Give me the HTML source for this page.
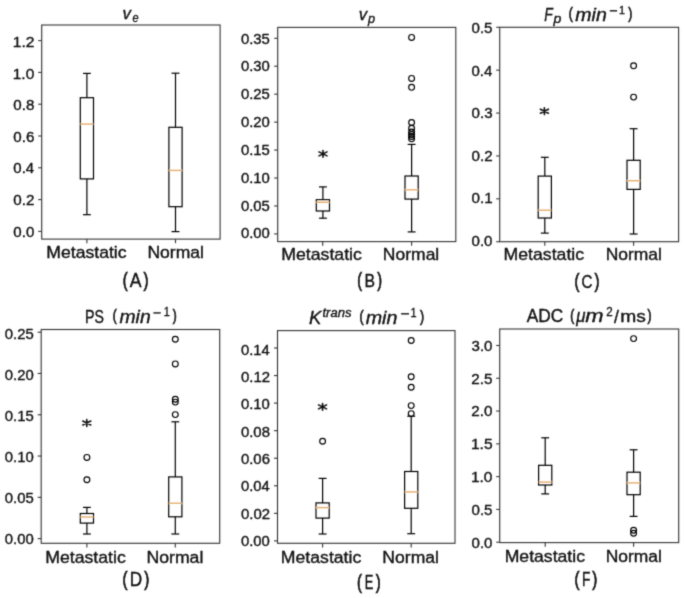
<!DOCTYPE html>
<html><head><meta charset="utf-8"><style>
html,body{margin:0;padding:0;background:#fff;overflow:hidden;}
svg{display:block;}
text{font-family:"Liberation Sans",sans-serif;stroke:#0a0a0a;stroke-width:0.3px;}
</style></head><body>
<svg width="685" height="598" viewBox="0 0 685 598">
<defs><filter id="b" x="0" y="0" width="685" height="598" filterUnits="userSpaceOnUse"><feConvolveMatrix order="3" kernelMatrix="0.0225 0.1050 0.0225 0.1050 0.4900 0.1050 0.0225 0.1050 0.0225" edgeMode="duplicate"/></filter></defs>
<rect width="685" height="598" fill="#fff"/>
<g filter="url(#b)">
<line x1="86.90" y1="178.90" x2="86.90" y2="214.70" stroke="#000" stroke-width="1.2"/>
<line x1="86.90" y1="97.70" x2="86.90" y2="73.40" stroke="#000" stroke-width="1.2"/>
<line x1="82.95" y1="214.70" x2="90.85" y2="214.70" stroke="#000" stroke-width="1.2"/>
<line x1="82.95" y1="73.40" x2="90.85" y2="73.40" stroke="#000" stroke-width="1.2"/>
<rect x="80.30" y="97.70" width="13.20" height="81.20" fill="none" stroke="#000" stroke-width="1.2"/>
<line x1="80.30" y1="124.10" x2="93.50" y2="124.10" stroke="#e6ae6e" stroke-width="1.4"/>
<line x1="175.50" y1="206.70" x2="175.50" y2="231.60" stroke="#000" stroke-width="1.2"/>
<line x1="175.50" y1="127.30" x2="175.50" y2="73.20" stroke="#000" stroke-width="1.2"/>
<line x1="171.55" y1="231.60" x2="179.45" y2="231.60" stroke="#000" stroke-width="1.2"/>
<line x1="171.55" y1="73.20" x2="179.45" y2="73.20" stroke="#000" stroke-width="1.2"/>
<rect x="168.90" y="127.30" width="13.20" height="79.40" fill="none" stroke="#000" stroke-width="1.2"/>
<line x1="168.90" y1="170.40" x2="182.10" y2="170.40" stroke="#e6ae6e" stroke-width="1.4"/>
<line x1="38.20" y1="231.40" x2="41.70" y2="231.40" stroke="#333" stroke-width="1.1"/>
<text transform="translate(13.31,236.61) scale(1.0685,1)" font-size="14.12" fill="#0a0a0a">0.0</text>
<line x1="38.20" y1="199.60" x2="41.70" y2="199.60" stroke="#333" stroke-width="1.1"/>
<text transform="translate(13.31,204.99) scale(1.0775,1)" font-size="14.12" fill="#0a0a0a">0.2</text>
<line x1="38.20" y1="167.80" x2="41.70" y2="167.80" stroke="#333" stroke-width="1.1"/>
<text transform="translate(13.32,173.38) scale(1.0604,1)" font-size="14.12" fill="#0a0a0a">0.4</text>
<line x1="38.20" y1="136.00" x2="41.70" y2="136.00" stroke="#333" stroke-width="1.1"/>
<text transform="translate(13.31,141.76) scale(1.0726,1)" font-size="14.12" fill="#0a0a0a">0.6</text>
<line x1="38.20" y1="104.20" x2="41.70" y2="104.20" stroke="#333" stroke-width="1.1"/>
<text transform="translate(13.31,110.14) scale(1.0717,1)" font-size="14.12" fill="#0a0a0a">0.8</text>
<line x1="38.20" y1="72.40" x2="41.70" y2="72.40" stroke="#333" stroke-width="1.1"/>
<text transform="translate(12.72,78.53) scale(1.0995,1)" font-size="14.12" fill="#0a0a0a">1.0</text>
<line x1="38.20" y1="40.60" x2="41.70" y2="40.60" stroke="#333" stroke-width="1.1"/>
<text transform="translate(12.71,47.05) scale(1.0934,1)" font-size="14.33" fill="#0a0a0a">1.2</text>
<line x1="86.90" y1="239.10" x2="86.90" y2="243.20" stroke="#333" stroke-width="1.1"/>
<line x1="175.50" y1="239.10" x2="175.50" y2="243.20" stroke="#333" stroke-width="1.1"/>
<rect x="41.70" y="25.00" width="178.40" height="214.10" fill="none" stroke="#333" stroke-width="1.1"/>
<line x1="322.90" y1="211.00" x2="322.90" y2="218.20" stroke="#000" stroke-width="1.2"/>
<line x1="322.90" y1="199.70" x2="322.90" y2="186.90" stroke="#000" stroke-width="1.2"/>
<line x1="318.95" y1="218.20" x2="326.85" y2="218.20" stroke="#000" stroke-width="1.2"/>
<line x1="318.95" y1="186.90" x2="326.85" y2="186.90" stroke="#000" stroke-width="1.2"/>
<rect x="316.30" y="199.70" width="13.20" height="11.30" fill="none" stroke="#000" stroke-width="1.2"/>
<line x1="316.30" y1="202.30" x2="329.50" y2="202.30" stroke="#e6ae6e" stroke-width="1.4"/>
<path d="M323.00,150.50V157.30M319.00,151.90L327.00,155.90M319.00,155.90L327.00,151.90" stroke="#111" stroke-width="1.6" stroke-linecap="round" fill="none"/>
<line x1="411.60" y1="199.10" x2="411.60" y2="231.90" stroke="#000" stroke-width="1.2"/>
<line x1="411.60" y1="176.00" x2="411.60" y2="144.40" stroke="#000" stroke-width="1.2"/>
<line x1="407.65" y1="231.90" x2="415.55" y2="231.90" stroke="#000" stroke-width="1.2"/>
<line x1="407.65" y1="144.40" x2="415.55" y2="144.40" stroke="#000" stroke-width="1.2"/>
<rect x="405.00" y="176.00" width="13.20" height="23.10" fill="none" stroke="#000" stroke-width="1.2"/>
<line x1="405.00" y1="189.80" x2="418.20" y2="189.80" stroke="#e6ae6e" stroke-width="1.4"/>
<circle cx="411.60" cy="37.40" r="2.9" fill="none" stroke="#000" stroke-width="1.15"/>
<circle cx="411.60" cy="78.40" r="2.9" fill="none" stroke="#000" stroke-width="1.15"/>
<circle cx="411.60" cy="87.30" r="2.9" fill="none" stroke="#000" stroke-width="1.15"/>
<circle cx="411.60" cy="122.50" r="2.9" fill="none" stroke="#000" stroke-width="1.15"/>
<circle cx="411.60" cy="128.30" r="2.9" fill="none" stroke="#000" stroke-width="1.15"/>
<circle cx="411.60" cy="132.00" r="2.9" fill="none" stroke="#000" stroke-width="1.15"/>
<circle cx="411.60" cy="134.50" r="2.9" fill="none" stroke="#000" stroke-width="1.15"/>
<circle cx="411.60" cy="136.50" r="2.9" fill="none" stroke="#000" stroke-width="1.15"/>
<circle cx="411.60" cy="138.80" r="2.9" fill="none" stroke="#000" stroke-width="1.15"/>
<line x1="274.20" y1="233.90" x2="277.70" y2="233.90" stroke="#333" stroke-width="1.1"/>
<text transform="translate(240.92,238.31) scale(1.0537,1)" font-size="14.12" fill="#0a0a0a">0.00</text>
<line x1="274.20" y1="205.96" x2="277.70" y2="205.96" stroke="#333" stroke-width="1.1"/>
<text transform="translate(240.92,210.50) scale(1.0554,1)" font-size="14.12" fill="#0a0a0a">0.05</text>
<line x1="274.20" y1="178.01" x2="277.70" y2="178.01" stroke="#333" stroke-width="1.1"/>
<text transform="translate(240.92,182.69) scale(1.0537,1)" font-size="14.12" fill="#0a0a0a">0.10</text>
<line x1="274.20" y1="150.07" x2="277.70" y2="150.07" stroke="#333" stroke-width="1.1"/>
<text transform="translate(240.92,154.89) scale(1.0554,1)" font-size="14.12" fill="#0a0a0a">0.15</text>
<line x1="274.20" y1="122.13" x2="277.70" y2="122.13" stroke="#333" stroke-width="1.1"/>
<text transform="translate(240.92,127.08) scale(1.0537,1)" font-size="14.12" fill="#0a0a0a">0.20</text>
<line x1="274.20" y1="94.19" x2="277.70" y2="94.19" stroke="#333" stroke-width="1.1"/>
<text transform="translate(240.92,99.27) scale(1.0554,1)" font-size="14.12" fill="#0a0a0a">0.25</text>
<line x1="274.20" y1="66.24" x2="277.70" y2="66.24" stroke="#333" stroke-width="1.1"/>
<text transform="translate(240.92,71.47) scale(1.0537,1)" font-size="14.12" fill="#0a0a0a">0.30</text>
<line x1="274.20" y1="38.30" x2="277.70" y2="38.30" stroke="#333" stroke-width="1.1"/>
<text transform="translate(240.92,43.66) scale(1.0554,1)" font-size="14.12" fill="#0a0a0a">0.35</text>
<line x1="322.70" y1="241.60" x2="322.70" y2="245.70" stroke="#333" stroke-width="1.1"/>
<line x1="411.60" y1="241.60" x2="411.60" y2="245.70" stroke="#333" stroke-width="1.1"/>
<rect x="277.70" y="27.40" width="178.10" height="214.20" fill="none" stroke="#333" stroke-width="1.1"/>
<line x1="544.80" y1="218.00" x2="544.80" y2="233.10" stroke="#000" stroke-width="1.2"/>
<line x1="544.80" y1="176.10" x2="544.80" y2="157.30" stroke="#000" stroke-width="1.2"/>
<line x1="540.85" y1="233.10" x2="548.75" y2="233.10" stroke="#000" stroke-width="1.2"/>
<line x1="540.85" y1="157.30" x2="548.75" y2="157.30" stroke="#000" stroke-width="1.2"/>
<rect x="538.20" y="176.10" width="13.20" height="41.90" fill="none" stroke="#000" stroke-width="1.2"/>
<line x1="538.20" y1="210.20" x2="551.40" y2="210.20" stroke="#e6ae6e" stroke-width="1.4"/>
<path d="M544.40,107.80V114.60M540.40,109.20L548.40,113.20M540.40,113.20L548.40,109.20" stroke="#111" stroke-width="1.6" stroke-linecap="round" fill="none"/>
<line x1="633.60" y1="189.40" x2="633.60" y2="234.00" stroke="#000" stroke-width="1.2"/>
<line x1="633.60" y1="160.30" x2="633.60" y2="128.70" stroke="#000" stroke-width="1.2"/>
<line x1="629.65" y1="234.00" x2="637.55" y2="234.00" stroke="#000" stroke-width="1.2"/>
<line x1="629.65" y1="128.70" x2="637.55" y2="128.70" stroke="#000" stroke-width="1.2"/>
<rect x="627.00" y="160.30" width="13.20" height="29.10" fill="none" stroke="#000" stroke-width="1.2"/>
<line x1="627.00" y1="180.70" x2="640.20" y2="180.70" stroke="#e6ae6e" stroke-width="1.4"/>
<circle cx="633.60" cy="65.80" r="2.9" fill="none" stroke="#000" stroke-width="1.15"/>
<circle cx="633.60" cy="97.10" r="2.9" fill="none" stroke="#000" stroke-width="1.15"/>
<line x1="496.20" y1="241.70" x2="499.70" y2="241.70" stroke="#333" stroke-width="1.1"/>
<text transform="translate(471.51,245.91) scale(1.0685,1)" font-size="14.12" fill="#0a0a0a">0.0</text>
<line x1="496.20" y1="198.82" x2="499.70" y2="198.82" stroke="#333" stroke-width="1.1"/>
<text transform="translate(471.51,203.33) scale(1.0767,1)" font-size="14.12" fill="#0a0a0a">0.1</text>
<line x1="496.20" y1="155.94" x2="499.70" y2="155.94" stroke="#333" stroke-width="1.1"/>
<text transform="translate(471.51,160.75) scale(1.0775,1)" font-size="14.12" fill="#0a0a0a">0.2</text>
<line x1="496.20" y1="113.06" x2="499.70" y2="113.06" stroke="#333" stroke-width="1.1"/>
<text transform="translate(471.51,118.17) scale(1.0726,1)" font-size="14.12" fill="#0a0a0a">0.3</text>
<line x1="496.20" y1="70.18" x2="499.70" y2="70.18" stroke="#333" stroke-width="1.1"/>
<text transform="translate(471.52,75.59) scale(1.0604,1)" font-size="14.12" fill="#0a0a0a">0.4</text>
<line x1="496.20" y1="27.30" x2="499.70" y2="27.30" stroke="#333" stroke-width="1.1"/>
<text transform="translate(471.51,33.01) scale(1.0709,1)" font-size="14.12" fill="#0a0a0a">0.5</text>
<line x1="544.80" y1="241.70" x2="544.80" y2="245.80" stroke="#333" stroke-width="1.1"/>
<line x1="633.60" y1="241.70" x2="633.60" y2="245.80" stroke="#333" stroke-width="1.1"/>
<rect x="499.70" y="27.30" width="178.90" height="214.40" fill="none" stroke="#333" stroke-width="1.1"/>
<line x1="86.90" y1="523.10" x2="86.90" y2="534.00" stroke="#000" stroke-width="1.2"/>
<line x1="86.90" y1="513.50" x2="86.90" y2="507.40" stroke="#000" stroke-width="1.2"/>
<line x1="82.95" y1="534.00" x2="90.85" y2="534.00" stroke="#000" stroke-width="1.2"/>
<line x1="82.95" y1="507.40" x2="90.85" y2="507.40" stroke="#000" stroke-width="1.2"/>
<rect x="80.30" y="513.50" width="13.20" height="9.60" fill="none" stroke="#000" stroke-width="1.2"/>
<line x1="80.30" y1="517.00" x2="93.50" y2="517.00" stroke="#e6ae6e" stroke-width="1.4"/>
<circle cx="86.90" cy="457.40" r="2.9" fill="none" stroke="#000" stroke-width="1.15"/>
<circle cx="86.90" cy="479.70" r="2.9" fill="none" stroke="#000" stroke-width="1.15"/>
<path d="M86.80,419.60V426.40M82.80,421.00L90.80,425.00M82.80,425.00L90.80,421.00" stroke="#111" stroke-width="1.6" stroke-linecap="round" fill="none"/>
<line x1="175.30" y1="516.80" x2="175.30" y2="534.00" stroke="#000" stroke-width="1.2"/>
<line x1="175.30" y1="476.90" x2="175.30" y2="421.80" stroke="#000" stroke-width="1.2"/>
<line x1="171.35" y1="534.00" x2="179.25" y2="534.00" stroke="#000" stroke-width="1.2"/>
<line x1="171.35" y1="421.80" x2="179.25" y2="421.80" stroke="#000" stroke-width="1.2"/>
<rect x="168.70" y="476.90" width="13.20" height="39.90" fill="none" stroke="#000" stroke-width="1.2"/>
<line x1="168.70" y1="503.20" x2="181.90" y2="503.20" stroke="#e6ae6e" stroke-width="1.4"/>
<circle cx="175.30" cy="339.30" r="2.9" fill="none" stroke="#000" stroke-width="1.15"/>
<circle cx="175.30" cy="363.90" r="2.9" fill="none" stroke="#000" stroke-width="1.15"/>
<circle cx="175.30" cy="399.30" r="2.9" fill="none" stroke="#000" stroke-width="1.15"/>
<circle cx="175.30" cy="402.10" r="2.9" fill="none" stroke="#000" stroke-width="1.15"/>
<circle cx="175.30" cy="414.60" r="2.9" fill="none" stroke="#000" stroke-width="1.15"/>
<line x1="37.70" y1="538.60" x2="41.20" y2="538.60" stroke="#333" stroke-width="1.1"/>
<text transform="translate(4.82,543.96) scale(1.0537,1)" font-size="14.12" fill="#0a0a0a">0.00</text>
<line x1="37.70" y1="497.32" x2="41.20" y2="497.32" stroke="#333" stroke-width="1.1"/>
<text transform="translate(4.82,502.90) scale(1.0554,1)" font-size="14.12" fill="#0a0a0a">0.05</text>
<line x1="37.70" y1="456.04" x2="41.20" y2="456.04" stroke="#333" stroke-width="1.1"/>
<text transform="translate(4.82,461.84) scale(1.0537,1)" font-size="14.12" fill="#0a0a0a">0.10</text>
<line x1="37.70" y1="414.76" x2="41.20" y2="414.76" stroke="#333" stroke-width="1.1"/>
<text transform="translate(4.82,420.78) scale(1.0554,1)" font-size="14.12" fill="#0a0a0a">0.15</text>
<line x1="37.70" y1="373.48" x2="41.20" y2="373.48" stroke="#333" stroke-width="1.1"/>
<text transform="translate(4.82,379.72) scale(1.0537,1)" font-size="14.12" fill="#0a0a0a">0.20</text>
<line x1="37.70" y1="332.20" x2="41.20" y2="332.20" stroke="#333" stroke-width="1.1"/>
<text transform="translate(4.82,338.66) scale(1.0554,1)" font-size="14.12" fill="#0a0a0a">0.25</text>
<line x1="86.90" y1="543.30" x2="86.90" y2="547.40" stroke="#333" stroke-width="1.1"/>
<line x1="175.30" y1="543.30" x2="175.30" y2="547.40" stroke="#333" stroke-width="1.1"/>
<rect x="41.20" y="329.50" width="178.50" height="213.80" fill="none" stroke="#333" stroke-width="1.1"/>
<line x1="322.60" y1="518.10" x2="322.60" y2="534.00" stroke="#000" stroke-width="1.2"/>
<line x1="322.60" y1="502.90" x2="322.60" y2="478.40" stroke="#000" stroke-width="1.2"/>
<line x1="318.65" y1="534.00" x2="326.55" y2="534.00" stroke="#000" stroke-width="1.2"/>
<line x1="318.65" y1="478.40" x2="326.55" y2="478.40" stroke="#000" stroke-width="1.2"/>
<rect x="316.00" y="502.90" width="13.20" height="15.20" fill="none" stroke="#000" stroke-width="1.2"/>
<line x1="316.00" y1="507.60" x2="329.20" y2="507.60" stroke="#e6ae6e" stroke-width="1.4"/>
<circle cx="322.60" cy="441.20" r="2.9" fill="none" stroke="#000" stroke-width="1.15"/>
<path d="M322.55,403.45V410.25M318.55,404.85L326.55,408.85M318.55,408.85L326.55,404.85" stroke="#111" stroke-width="1.6" stroke-linecap="round" fill="none"/>
<line x1="411.20" y1="508.30" x2="411.20" y2="533.70" stroke="#000" stroke-width="1.2"/>
<line x1="411.20" y1="471.50" x2="411.20" y2="416.20" stroke="#000" stroke-width="1.2"/>
<line x1="407.25" y1="533.70" x2="415.15" y2="533.70" stroke="#000" stroke-width="1.2"/>
<line x1="407.25" y1="416.20" x2="415.15" y2="416.20" stroke="#000" stroke-width="1.2"/>
<rect x="404.60" y="471.50" width="13.20" height="36.80" fill="none" stroke="#000" stroke-width="1.2"/>
<line x1="404.60" y1="491.90" x2="417.80" y2="491.90" stroke="#e6ae6e" stroke-width="1.4"/>
<circle cx="411.20" cy="340.50" r="2.9" fill="none" stroke="#000" stroke-width="1.15"/>
<circle cx="411.20" cy="376.70" r="2.9" fill="none" stroke="#000" stroke-width="1.15"/>
<circle cx="411.20" cy="387.20" r="2.9" fill="none" stroke="#000" stroke-width="1.15"/>
<circle cx="411.20" cy="405.60" r="2.9" fill="none" stroke="#000" stroke-width="1.15"/>
<circle cx="411.20" cy="413.60" r="2.9" fill="none" stroke="#000" stroke-width="1.15"/>
<line x1="274.00" y1="540.90" x2="277.50" y2="540.90" stroke="#333" stroke-width="1.1"/>
<text transform="translate(240.92,546.11) scale(1.0537,1)" font-size="14.12" fill="#0a0a0a">0.00</text>
<line x1="274.00" y1="513.34" x2="277.50" y2="513.34" stroke="#333" stroke-width="1.1"/>
<text transform="translate(240.92,518.76) scale(1.0599,1)" font-size="14.12" fill="#0a0a0a">0.02</text>
<line x1="274.00" y1="485.79" x2="277.50" y2="485.79" stroke="#333" stroke-width="1.1"/>
<text transform="translate(240.92,491.41) scale(1.0481,1)" font-size="14.12" fill="#0a0a0a">0.04</text>
<line x1="274.00" y1="458.23" x2="277.50" y2="458.23" stroke="#333" stroke-width="1.1"/>
<text transform="translate(240.92,464.06) scale(1.0565,1)" font-size="14.12" fill="#0a0a0a">0.06</text>
<line x1="274.00" y1="430.67" x2="277.50" y2="430.67" stroke="#333" stroke-width="1.1"/>
<text transform="translate(240.92,436.71) scale(1.0559,1)" font-size="14.12" fill="#0a0a0a">0.08</text>
<line x1="274.00" y1="403.11" x2="277.50" y2="403.11" stroke="#333" stroke-width="1.1"/>
<text transform="translate(240.92,409.36) scale(1.0537,1)" font-size="14.12" fill="#0a0a0a">0.10</text>
<line x1="274.00" y1="375.56" x2="277.50" y2="375.56" stroke="#333" stroke-width="1.1"/>
<text transform="translate(240.92,382.01) scale(1.0599,1)" font-size="14.12" fill="#0a0a0a">0.12</text>
<line x1="274.00" y1="348.00" x2="277.50" y2="348.00" stroke="#333" stroke-width="1.1"/>
<text transform="translate(240.92,354.66) scale(1.0481,1)" font-size="14.12" fill="#0a0a0a">0.14</text>
<line x1="322.60" y1="543.30" x2="322.60" y2="547.40" stroke="#333" stroke-width="1.1"/>
<line x1="411.20" y1="543.30" x2="411.20" y2="547.40" stroke="#333" stroke-width="1.1"/>
<rect x="277.50" y="330.60" width="177.50" height="212.70" fill="none" stroke="#333" stroke-width="1.1"/>
<line x1="545.20" y1="485.00" x2="545.20" y2="493.90" stroke="#000" stroke-width="1.2"/>
<line x1="545.20" y1="465.30" x2="545.20" y2="437.80" stroke="#000" stroke-width="1.2"/>
<line x1="541.25" y1="493.90" x2="549.15" y2="493.90" stroke="#000" stroke-width="1.2"/>
<line x1="541.25" y1="437.80" x2="549.15" y2="437.80" stroke="#000" stroke-width="1.2"/>
<rect x="538.60" y="465.30" width="13.20" height="19.70" fill="none" stroke="#000" stroke-width="1.2"/>
<line x1="538.60" y1="482.10" x2="551.80" y2="482.10" stroke="#e6ae6e" stroke-width="1.4"/>
<line x1="633.60" y1="494.70" x2="633.60" y2="516.40" stroke="#000" stroke-width="1.2"/>
<line x1="633.60" y1="472.20" x2="633.60" y2="449.80" stroke="#000" stroke-width="1.2"/>
<line x1="629.65" y1="516.40" x2="637.55" y2="516.40" stroke="#000" stroke-width="1.2"/>
<line x1="629.65" y1="449.80" x2="637.55" y2="449.80" stroke="#000" stroke-width="1.2"/>
<rect x="627.00" y="472.20" width="13.20" height="22.50" fill="none" stroke="#000" stroke-width="1.2"/>
<line x1="627.00" y1="482.90" x2="640.20" y2="482.90" stroke="#e6ae6e" stroke-width="1.4"/>
<circle cx="633.60" cy="338.60" r="2.9" fill="none" stroke="#000" stroke-width="1.15"/>
<circle cx="633.60" cy="530.30" r="2.9" fill="none" stroke="#000" stroke-width="1.15"/>
<circle cx="633.60" cy="533.30" r="2.9" fill="none" stroke="#000" stroke-width="1.15"/>
<line x1="496.20" y1="542.20" x2="499.70" y2="542.20" stroke="#333" stroke-width="1.1"/>
<text transform="translate(471.51,547.56) scale(1.0685,1)" font-size="14.12" fill="#0a0a0a">0.0</text>
<line x1="496.20" y1="509.42" x2="499.70" y2="509.42" stroke="#333" stroke-width="1.1"/>
<text transform="translate(471.51,514.78) scale(1.0709,1)" font-size="14.12" fill="#0a0a0a">0.5</text>
<line x1="496.20" y1="476.63" x2="499.70" y2="476.63" stroke="#333" stroke-width="1.1"/>
<text transform="translate(470.92,482.01) scale(1.0995,1)" font-size="14.12" fill="#0a0a0a">1.0</text>
<line x1="496.20" y1="443.85" x2="499.70" y2="443.85" stroke="#333" stroke-width="1.1"/>
<text transform="translate(470.92,449.23) scale(1.0865,1)" font-size="14.33" fill="#0a0a0a">1.5</text>
<line x1="496.20" y1="411.07" x2="499.70" y2="411.07" stroke="#333" stroke-width="1.1"/>
<text transform="translate(471.34,416.46) scale(1.0775,1)" font-size="14.12" fill="#0a0a0a">2.0</text>
<line x1="496.20" y1="378.28" x2="499.70" y2="378.28" stroke="#333" stroke-width="1.1"/>
<text transform="translate(471.34,383.68) scale(1.0800,1)" font-size="14.12" fill="#0a0a0a">2.5</text>
<line x1="496.20" y1="345.50" x2="499.70" y2="345.50" stroke="#333" stroke-width="1.1"/>
<text transform="translate(471.53,350.91) scale(1.0677,1)" font-size="14.12" fill="#0a0a0a">3.0</text>
<line x1="545.20" y1="542.60" x2="545.20" y2="546.70" stroke="#333" stroke-width="1.1"/>
<line x1="633.60" y1="542.60" x2="633.60" y2="546.70" stroke="#333" stroke-width="1.1"/>
<rect x="499.70" y="329.00" width="179.00" height="213.60" fill="none" stroke="#333" stroke-width="1.1"/>
<text transform="translate(46.36,258.20) scale(1.1292,1)" font-size="15.59" fill="#0a0a0a">Metastatic</text>
<text transform="translate(147.46,258.20) scale(1.1250,1)" font-size="15.59" fill="#0a0a0a">Normal</text>
<text transform="translate(281.15,259.80) scale(1.0989,1)" font-size="16.14" fill="#0a0a0a">Metastatic</text>
<text transform="translate(382.86,259.80) scale(1.0845,1)" font-size="16.14" fill="#0a0a0a">Normal</text>
<text transform="translate(503.55,259.80) scale(1.0961,1)" font-size="16.14" fill="#0a0a0a">Metastatic</text>
<text transform="translate(605.67,259.80) scale(1.0825,1)" font-size="16.14" fill="#0a0a0a">Normal</text>
<text transform="translate(45.15,562.70) scale(1.0791,1)" font-size="16.41" fill="#0a0a0a">Metastatic</text>
<text transform="translate(146.45,562.70) scale(1.0762,1)" font-size="16.41" fill="#0a0a0a">Normal</text>
<text transform="translate(280.85,562.70) scale(1.0763,1)" font-size="16.41" fill="#0a0a0a">Metastatic</text>
<text transform="translate(382.36,562.70) scale(1.0702,1)" font-size="16.41" fill="#0a0a0a">Normal</text>
<text transform="translate(504.65,562.20) scale(1.0750,1)" font-size="16.41" fill="#0a0a0a">Metastatic</text>
<text transform="translate(605.67,562.20) scale(1.0643,1)" font-size="16.41" fill="#0a0a0a">Normal</text>
<text transform="translate(122.65,286.61) scale(0.72,1)" font-size="20.71" fill="#0a0a0a" style="stroke-width:0.7px">(</text>
<text transform="translate(143.43,286.61) scale(0.72,1)" font-size="20.71" fill="#0a0a0a" style="stroke-width:0.7px">)</text>
<text transform="translate(129.86,287.10) scale(0.8862,1)" font-size="19.91" fill="#0a0a0a">A</text>
<text transform="translate(357.14,286.55) scale(0.72,1)" font-size="20.06" fill="#0a0a0a" style="stroke-width:0.7px">(</text>
<text transform="translate(377.20,286.55) scale(0.72,1)" font-size="20.06" fill="#0a0a0a" style="stroke-width:0.7px">)</text>
<text transform="translate(364.51,286.90) scale(0.8292,1)" font-size="19.04" fill="#0a0a0a">B</text>
<text transform="translate(574.45,288.31) scale(0.72,1)" font-size="20.71" fill="#0a0a0a" style="stroke-width:0.7px">(</text>
<text transform="translate(594.43,288.31) scale(0.72,1)" font-size="20.71" fill="#0a0a0a" style="stroke-width:0.7px">)</text>
<text transform="translate(581.53,288.31) scale(0.8013,1)" font-size="18.93" fill="#0a0a0a">C</text>
<text transform="translate(122.62,586.07) scale(0.72,1)" font-size="20.92" fill="#0a0a0a" style="stroke-width:0.7px">(</text>
<text transform="translate(144.16,586.07) scale(0.72,1)" font-size="20.92" fill="#0a0a0a" style="stroke-width:0.7px">)</text>
<text transform="translate(129.69,586.10) scale(0.8781,1)" font-size="19.62" fill="#0a0a0a">D</text>
<text transform="translate(357.07,589.14) scale(0.72,1)" font-size="20.60" fill="#0a0a0a" style="stroke-width:0.7px">(</text>
<text transform="translate(375.70,589.14) scale(0.72,1)" font-size="20.60" fill="#0a0a0a" style="stroke-width:0.7px">)</text>
<text transform="translate(364.74,589.40) scale(0.6439,1)" font-size="20.06" fill="#0a0a0a">E</text>
<text transform="translate(574.42,586.07) scale(0.72,1)" font-size="20.92" fill="#0a0a0a" style="stroke-width:0.7px">(</text>
<text transform="translate(592.31,586.07) scale(0.72,1)" font-size="20.92" fill="#0a0a0a" style="stroke-width:0.7px">)</text>
<text transform="translate(582.08,586.40) scale(0.6733,1)" font-size="20.35" fill="#0a0a0a">F</text>
<text transform="translate(122.47,19.30) scale(0.9768,1)" font-size="17.23" font-style="italic" fill="#0a0a0a">v</text>
<text transform="translate(132.53,22.30) scale(0.8399,1)" font-size="13.01" font-style="italic" fill="#0a0a0a">e</text>
<text transform="translate(358.67,19.70) scale(0.9662,1)" font-size="17.42" font-style="italic" fill="#0a0a0a">v</text>
<text transform="translate(368.02,22.63) scale(1.0339,1)" font-size="12.33" font-style="italic" fill="#0a0a0a">p</text>
<text transform="translate(544.17,20.80) scale(0.7890,1)" font-size="17.59" font-style="italic" fill="#0a0a0a">F</text>
<text transform="translate(553.46,23.20) scale(1.0927,1)" font-size="13.00" font-style="italic" fill="#0a0a0a">p</text>
<text transform="translate(568.64,19.31) scale(0.72,1)" font-size="16.85" fill="#0a0a0a" style="stroke-width:0.7px">(</text>
<text transform="translate(575.27,20.60) scale(1.1079,1)" font-size="17.66" font-style="italic" fill="#0a0a0a">min</text>
<line x1="609.80" y1="10.80" x2="617.10" y2="10.80" stroke="#0a0a0a" stroke-width="1.35"/>
<text transform="translate(619.09,13.70) scale(0.9065,1)" font-size="11.77" fill="#0a0a0a">1</text>
<text transform="translate(628.37,19.31) scale(0.72,1)" font-size="16.85" fill="#0a0a0a" style="stroke-width:0.7px">)</text>
<text transform="translate(85.04,322.70) scale(0.7918,1)" font-size="17.91" fill="#0a0a0a">PS</text>
<text transform="translate(112.85,321.10) scale(0.72,1)" font-size="16.42" fill="#0a0a0a" style="stroke-width:0.7px">(</text>
<text transform="translate(119.47,322.70) scale(1.0637,1)" font-size="18.21" font-style="italic" fill="#0a0a0a">min</text>
<line x1="153.40" y1="312.90" x2="160.70" y2="312.90" stroke="#0a0a0a" stroke-width="1.35"/>
<text transform="translate(163.67,316.10) scale(0.8932,1)" font-size="12.21" fill="#0a0a0a">1</text>
<text transform="translate(172.71,321.10) scale(0.72,1)" font-size="16.42" fill="#0a0a0a" style="stroke-width:0.7px">)</text>
<text transform="translate(308.93,324.00) scale(1.0238,1)" font-size="18.02" font-style="italic" fill="#0a0a0a">K</text>
<text transform="translate(322.51,317.00) scale(1.0520,1)" font-size="12.38" font-style="italic" fill="#0a0a0a">trans</text>
<text transform="translate(359.46,322.47) scale(0.72,1)" font-size="17.06" fill="#0a0a0a" style="stroke-width:0.7px">(</text>
<text transform="translate(365.66,323.80) scale(1.0688,1)" font-size="18.48" font-style="italic" fill="#0a0a0a">min</text>
<line x1="401.10" y1="313.80" x2="409.00" y2="313.80" stroke="#0a0a0a" stroke-width="1.35"/>
<text transform="translate(410.47,317.00) scale(0.8932,1)" font-size="12.21" fill="#0a0a0a">1</text>
<text transform="translate(420.10,322.47) scale(0.72,1)" font-size="17.06" fill="#0a0a0a" style="stroke-width:0.7px">)</text>
<text transform="translate(526.77,322.00) scale(0.9890,1)" font-size="17.48" fill="#0a0a0a">ADC</text>
<text transform="translate(570.17,320.56) scale(0.72,1)" font-size="16.63" fill="#0a0a0a" style="stroke-width:0.7px">(</text>
<text transform="translate(576.25,321.84) scale(0.9610,1)" font-size="17.50" font-style="italic" fill="#0a0a0a">μ</text>
<text transform="translate(585.13,322.00) scale(1.2562,1)" font-size="17.47" font-style="italic" fill="#0a0a0a">m</text>
<text transform="translate(606.22,315.70) scale(0.9115,1)" font-size="12.75" fill="#0a0a0a">2</text>
<text transform="translate(613.90,323.12) scale(0.9668,1)" font-size="18.23" fill="#0a0a0a">/</text>
<text transform="translate(620.13,322.00) scale(1.1382,1)" font-size="16.91" fill="#0a0a0a">ms</text>
<text transform="translate(647.44,320.56) scale(0.72,1)" font-size="16.63" fill="#0a0a0a" style="stroke-width:0.7px">)</text>
</g>
</svg>
</body></html>
